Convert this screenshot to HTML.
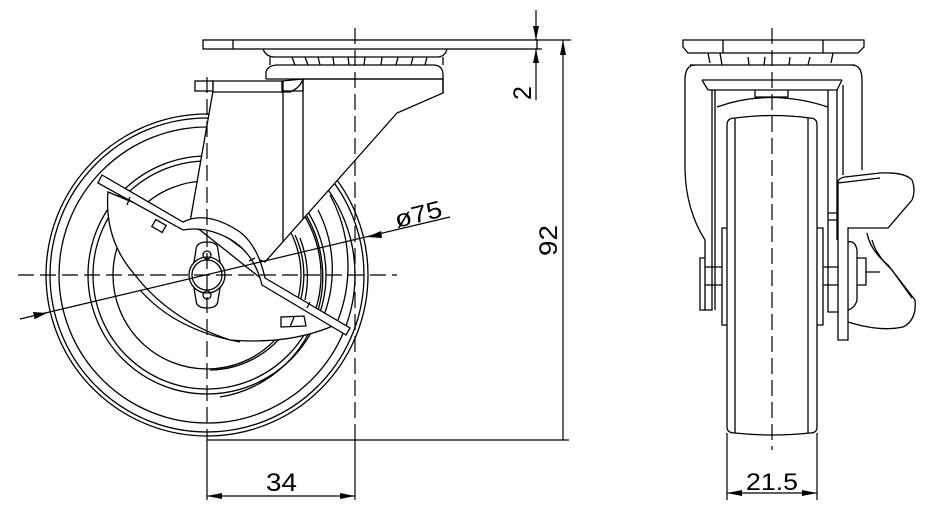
<!DOCTYPE html>
<html><head><style>
html,body{margin:0;padding:0;background:#fff;}
svg{display:block;}
text{font-family:"Liberation Sans",sans-serif;fill:#000;}
</style></head><body>
<svg width="939" height="529" viewBox="0 0 939 529" xmlns="http://www.w3.org/2000/svg">
<g fill="none" stroke="#000" stroke-width="1.3">
<!-- ===== LEFT VIEW ===== -->
<!-- wheel -->
<circle cx="207" cy="275" r="161"/>
<circle cx="207" cy="275" r="157"/>
<circle cx="207" cy="275" r="148"/>
<circle cx="207" cy="275" r="119"/>
<circle cx="207" cy="275" r="114"/>
<circle cx="207" cy="275" r="94"/>
<path d="M220 397 A122 122 0 0 0 303 210"/>
<path d="M210 370 A95 95 0 0 0 295 235"/>
<path d="M330 195 A150 150 0 0 1 338 320"/>
<path d="M318 210 A130 130 0 0 1 322 320"/>
<path d="M300 238 A110 110 0 0 1 305 300"/>
<!-- fork body -->
<path d="M213 91 L190 222 L207 222 L255 258 L265 262 L397 113 L443 93 L443 79 L303 79 L303 91 Z" fill="#fff"/>
<path d="M283 81 L283 242"/>
<path d="M303 79 L303 219"/>
<!-- top plate -->
<rect x="203" y="40" width="334" height="9" fill="#fff"/>
<line x1="233" y1="40" x2="233" y2="49"/>
<path d="M263 49 Q266 57 275 57 L437 57 Q445 57 447 49"/>
<path d="M270 57 L270 65 M443 57 L443 65"/>
<path d="M292 57 l3 8 M305 57 l3 8 M318 57 l2 8 M333 57 l1 8 M348 57 l1 8 M365 57 l-1 8 M382 57 l-1 8 M398 57 l-2 8 M413 57 l-2 8 M427 57 l-2 8"/>
<path d="M266 79 L266 72 Q268 65 278 65 L433 65 Q443 65 443 75 L443 93"/>
<line x1="266" y1="79" x2="443" y2="79"/>
<!-- fork top bar -->
<rect x="195" y="81" width="18" height="10" fill="#fff"/>
<path d="M213 81 L282 81 L282 92 L213 92 Z" fill="#fff"/>
<path d="M282 81 L303 79 Q300 88 290 92 L282 92"/>
<!-- lever lower disk -->
<path d="M108 192 Q104 240 135 275 Q170 320 230 340 Q290 345 335 325 L263 280 L200 230 L108 192 Z" fill="#fff"/>
<path d="M140 290 Q175 330 240 342"/>
<!-- lever bar -->
<path d="M102 175 L183 222 Q207 210 240 232 Q258 246 265 278 L350 328 L346 335 L262 285 Q254 252 228 238 Q205 226 183 230 L98 183 Z" fill="#fff"/>
<path d="M130 197 l-3 8 M255 258 l-6 3 M310 302 l-3 6"/>
<rect x="153" y="222" width="12" height="8" transform="rotate(30 159 226)" fill="#fff"/>
<path d="M281 317 L304 316 L306 326 L281 327 Z M294 317 L290 327"/>
<!-- hub -->
<path d="M196 250 Q196 242 207 242 Q218 242 218 250 L220 262 L220 288 L218 300 Q218 308 207 308 Q196 308 196 300 L194 288 L194 262 Z" fill="#fff"/>
<circle cx="207" cy="275" r="18" fill="#fff"/>
<circle cx="207" cy="275" r="15"/>
<circle cx="207" cy="255" r="4"/>
<circle cx="207" cy="295" r="4"/>
</g>
<!-- center lines -->
<g stroke="#000" stroke-width="1.2" fill="none" stroke-dasharray="16,6">
<line x1="18" y1="275" x2="397" y2="275"/>
<line x1="207" y1="77" x2="207" y2="440"/>
<line x1="355" y1="28" x2="355" y2="440"/>
<line x1="772" y1="28" x2="772" y2="450"/>
</g>
<g stroke="#000" stroke-width="1.2" fill="none">
<!-- phi75 -->
<line x1="20" y1="319" x2="450" y2="217"/>
<!-- ground & extension lines -->
<line x1="207" y1="440" x2="569" y2="440"/>
<line x1="207" y1="440" x2="207" y2="500"/>
<line x1="355" y1="440" x2="355" y2="500"/>
<line x1="207" y1="496" x2="355" y2="496"/>
<!-- 92 / 2 -->
<line x1="537" y1="40" x2="571" y2="40"/>
<line x1="537" y1="49" x2="542" y2="49"/>
<line x1="563" y1="40" x2="563" y2="440"/>
<line x1="536" y1="10" x2="536" y2="40"/>
<line x1="536" y1="49" x2="536" y2="100"/>
<!-- 21.5 -->
<line x1="727" y1="433" x2="727" y2="500"/>
<line x1="817" y1="433" x2="817" y2="500"/>
<line x1="727" y1="493" x2="817" y2="493"/>
</g>
<g fill="#000">
<polygon points="207,496 222,493 222,499"/>
<polygon points="355,496 340,493 340,499"/>
<polygon points="563,40 560,55 566,55"/>
<polygon points="536,40 533,26 539,26"/>
<polygon points="536,49 533,63 539,63"/>
<polygon points="727,493 742,490 742,496"/>
<polygon points="817,493 802,490 802,496"/>
<polygon points="47,313 34,319 35,313" transform="rotate(0)"/>
<polygon points="47,313 33,312 35,319"/>
<polygon points="367,237 381,231 382,238"/>
</g>
<!-- ===== RIGHT VIEW ===== -->
<g fill="none" stroke="#000" stroke-width="1.3">
<path d="M683 40 L864 40 L864 47 L858 53 L688 53 L683 47 Z"/>
<path d="M723 40 L723 53 M823 40 L823 53"/>
<path d="M708 53 l2 10 M720 53 l2 12 M748 57 l1 8 M765 57 l-1 8 M790 57 l-1 8 M810 57 l-2 8 M833 53 l-2 10"/>
<path d="M690 65 L855 65"/>
<path d="M685 80 Q685 65 695 65 M852 65 Q862 65 862 80 L862 170"/>
<path d="M685 80 L685 170 Q686 210 705 240 L705 310 L712 310 L712 90"/>
<path d="M702 80 L842 80 M708 90 L837 90"/>
<path d="M702 80 L708 90 M842 80 L837 90"/>
<path d="M715 90 L715 310 M828 90 L828 300 M837 90 L837 240 M843 85 L843 175"/>
<path d="M755 90 L755 97 L788 97 L788 90"/>
<path d="M717 107 Q770 88 828 107"/>
<path d="M727 125 Q727 118 735 118 Q772 113 810 118 Q817 118 817 125 L817 427 Q817 433 810 433 Q772 437 735 433 Q727 433 727 427 Z"/>
<path d="M735 118 L735 433 M808 118 L808 433"/>
<path d="M727 228 L722 228 L722 325 L727 325 M817 228 L823 228 L823 325 L817 325"/>
<path d="M705 258 L700 258 L700 310 L705 310 M705 267 L722 267 M705 285 L722 285"/>
<path d="M823 267 L838 267 M823 285 L838 285"/>
<path d="M828 300 L828 312 L838 312"/>
<path d="M838 183 Q838 178 845 177 L880 173 Q905 172 912 180 Q916 190 912 200 L888 228 L848 228 L848 340 L838 340 Z" fill="#fff"/>
<path d="M838 183 L880 178 M828 213 L838 213 M828 220 L838 220"/>
<path d="M848 242 Q855 240 857 250 L857 300 Q855 308 848 310"/>
<path d="M857 258 L866 258 L866 285 L857 285 M866 272 L880 272"/>
<path d="M867 233 Q870 250 888 265 L915 300 Q917 320 903 327 Q880 332 848 322"/>
<path d="M872 240 Q876 255 892 270 L912 298"/>
</g>
<!-- text -->
<text x="266" y="491" font-size="25" textLength="31" lengthAdjust="spacingAndGlyphs">34</text>
<text x="746" y="490" font-size="24" textLength="52" lengthAdjust="spacingAndGlyphs">21.5</text>
<text transform="translate(557,256) rotate(-90)" font-size="25" textLength="31" lengthAdjust="spacingAndGlyphs">92</text>
<text transform="translate(531,100) rotate(-90)" font-size="25">2</text>
<text transform="translate(397,228) rotate(-14)" font-size="24" textLength="48" lengthAdjust="spacingAndGlyphs">ø75</text>
</svg>
</body></html>
